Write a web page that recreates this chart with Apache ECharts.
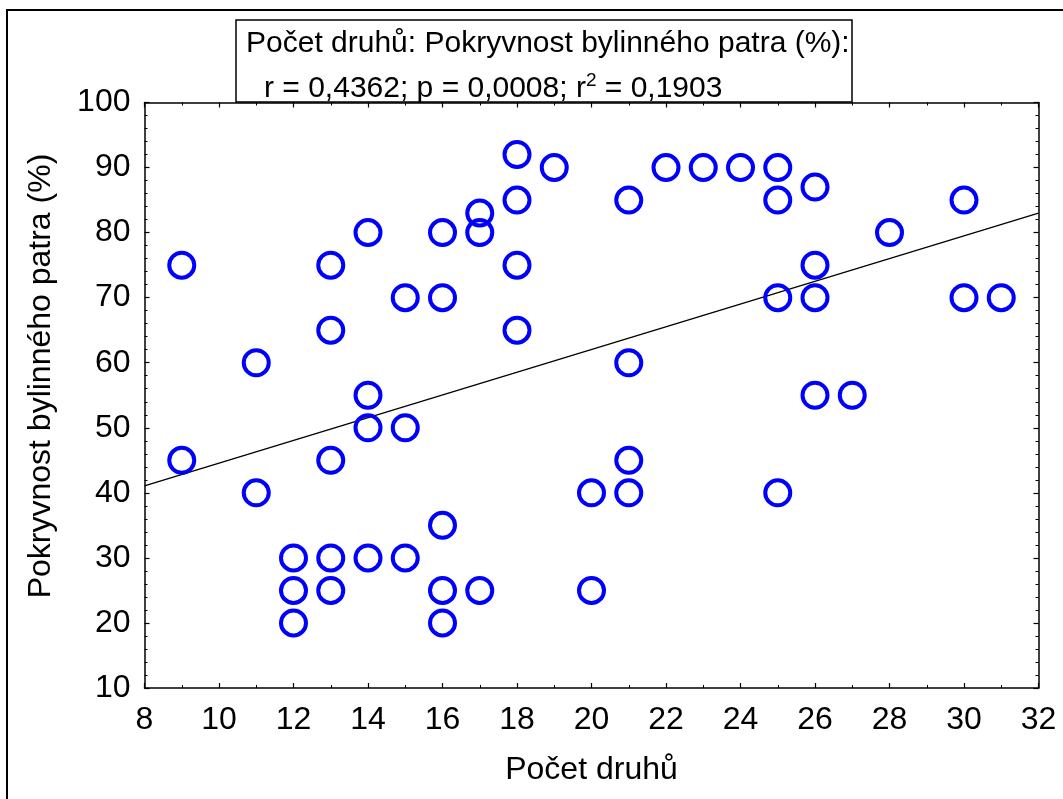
<!DOCTYPE html>
<html>
<head>
<meta charset="utf-8">
<title>Počet druhů vs. pokryvnost</title>
<script src="https://cdn.jsdelivr.net/npm/echarts@6/dist/echarts.min.js"></script>
<style>
  html, body { margin: 0; padding: 0; background: #fff; }
  #chart { width: 1063px; height: 799px; }
</style>
</head>
<body>
<div id="chart"></div>
<script>
// počet druhů (x) a pokryvnost bylinného patra v % (y), bod po bodu
var druhy = [
  9, 9,
  11, 11,
  12, 12, 12,
  13, 13, 13, 13, 13,
  14, 14, 14, 14,
  15, 15, 15,
  16, 16, 16, 16, 16,
  17, 17, 17,
  18, 18, 18, 18,
  19,
  20, 20,
  21, 21, 21, 21,
  22, 23, 24,
  25, 25, 25, 25,
  26, 26, 26, 26,
  27, 28,
  30, 30,
  31
];
var pokryvnost = [
  75, 45,
  60, 40,
  30, 25, 20,
  75, 65, 45, 30, 25,
  80, 55, 50, 30,
  70, 50, 30,
  80, 70, 35, 25, 20,
  83, 80, 25,
  92, 85, 75, 65,
  90,
  40, 25,
  85, 60, 45, 40,
  90, 90, 90,
  90, 85, 70, 40,
  87, 75, 70, 55,
  55, 80,
  85, 70,
  70
];
var xTicks = [8, 32, 2];     // min, max, krok
var yTicks = [10, 100, 10];

var FONT = '"Liberation Sans", Arial, sans-serif';

// body pro scatter
var body = druhy.map(function (x, i) { return [x, pokryvnost[i]]; });

// lineární regrese (nejmenší čtverce)
function regrese (xs, ys) {
  var n = xs.length, sx = 0, sy = 0, sxx = 0, sxy = 0;
  for (var i = 0; i < n; i++) {
    sx += xs[i]; sy += ys[i];
    sxx += xs[i] * xs[i]; sxy += xs[i] * ys[i];
  }
  var b = (n * sxy - sx * sy) / (n * sxx - sx * sx);
  var a = (sy - b * sx) / n;
  return { a: a, b: b };
}
var fit = regrese(druhy, pokryvnost);
var primka = [xTicks[0], xTicks[1]].map(function (x) { return [x, fit.a + fit.b * x]; });

function osaX (pos, labels) {
  return {
    type: 'value',
    position: pos,
    min: xTicks[0], max: xTicks[1], interval: xTicks[2],
    axisLine: { show: true, onZero: false, lineStyle: { color: '#000', width: 1.5 } },
    axisTick: { show: true, inside: true, length: 5, lineStyle: { color: '#000', width: 1.2 } },
    minorTick: { show: true, splitNumber: 2, length: 3, lineStyle: { color: '#000', width: 1 } },
    axisLabel: { show: labels, color: '#000', fontSize: 32, fontFamily: FONT, margin: 16 },
    splitLine: { show: false },
    name: labels ? 'Počet druhů' : '',
    nameLocation: 'middle',
    nameGap: 66,
    nameTextStyle: { color: '#000', fontSize: 32, fontFamily: FONT }
  };
}
function osaY (pos, labels) {
  return {
    type: 'value',
    position: pos,
    min: yTicks[0], max: yTicks[1], interval: yTicks[2],
    axisLine: { show: true, onZero: false, lineStyle: { color: '#000', width: 1.5 } },
    axisTick: { show: true, inside: true, length: 5, lineStyle: { color: '#000', width: 1.2 } },
    minorTick: { show: true, splitNumber: 5, length: 3, lineStyle: { color: '#000', width: 1 } },
    axisLabel: { show: labels, color: '#000', fontSize: 32, fontFamily: FONT, margin: 14 },
    splitLine: { show: false }
  };
}

var chart = echarts.init(document.getElementById('chart'), null, { renderer: 'canvas' });
chart.setOption({
  backgroundColor: '#fff',
  animation: false,
  grid: { left: 144.5, right: 24.5, top: 102.5, bottom: 111, containLabel: false },
  xAxis: [osaX('bottom', true), osaX('top', false)],
  yAxis: [osaY('left', true), osaY('right', false)],
  graphic: [
    {
      type: 'rect', z: -1, silent: true,
      shape: { x: 7, y: 10, width: 1080, height: 820 },
      style: { fill: 'none', stroke: '#000', lineWidth: 2 }
    },
    {
      type: 'rect', z: 10, silent: true,
      shape: { x: 236, y: 20, width: 616, height: 82 },
      style: { fill: '#fff', stroke: '#000', lineWidth: 1.5 }
    },
    {
      type: 'text', z: 11, silent: true, x: 246, y: 44,
      style: {
        text: 'Počet druhů: Pokryvnost bylinného patra (%):',
        font: '30px ' + FONT, fill: '#000', verticalAlign: 'middle'
      }
    },
    {
      type: 'text', z: 11, silent: true, x: 264, y: 89,
      style: {
        text: '{n|r = 0,4362; p = 0,0008; r}{s|2}{n| = 0,1903}',
        verticalAlign: 'middle',
        rich: {
          n: { fontSize: 30, fontFamily: FONT, color: '#000' },
          s: { fontSize: 19, fontFamily: FONT, color: '#000', padding: [0, 0, 16, 0] }
        }
      }
    },
    {
      type: 'text', silent: true, x: 41, y: 376, rotation: Math.PI / 2,
      style: {
        text: 'Pokryvnost bylinného patra (%)',
        font: '32px ' + FONT, fill: '#000', align: 'center', verticalAlign: 'middle'
      }
    }
  ],
  series: [
    {
      type: 'line',
      data: primka,
      xAxisIndex: 0, yAxisIndex: 0,
      symbol: 'none',
      lineStyle: { color: '#000', width: 1.3 },
      silent: true, z: 1
    },
    {
      type: 'scatter',
      data: body,
      xAxisIndex: 0, yAxisIndex: 0,
      symbol: 'circle',
      symbolSize: 25,
      itemStyle: { color: 'rgba(0,0,0,0)', borderColor: '#0000ff', borderWidth: 4, opacity: 1 },
      z: 2
    }
  ]
});
</script>
</body>
</html>
